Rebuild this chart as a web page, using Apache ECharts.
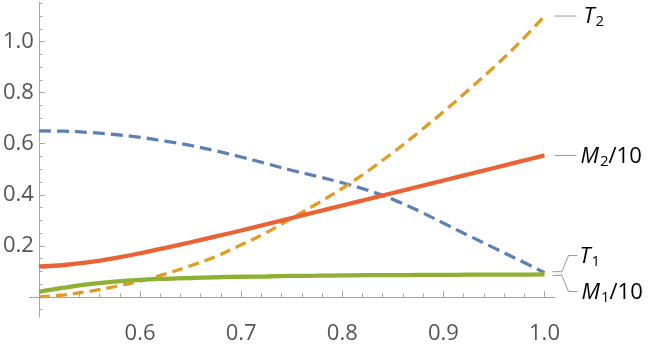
<!DOCTYPE html>
<html><head><meta charset="utf-8">
<script src="https://cdn.jsdelivr.net/npm/echarts@6/dist/echarts.min.js"></script>
<style>html,body{margin:0;padding:0;background:#fff}#c{width:664px;height:345px}</style>
</head><body><div id="c"></div>
<script>
// ---- data ----
const xValues = [0.5,0.525,0.55,0.575,0.6,0.625,0.65,0.675,0.7,0.725,0.75,0.775,0.8,0.825,0.85,0.875,0.9,0.925,0.95,0.975,1.0];
const T1 = [0.65,0.649,0.644,0.636,0.625,0.61,0.593,0.572,0.548,0.522,0.496,0.472,0.447,0.418,0.382,0.338,0.289,0.24,0.192,0.144,0.095];
const T2 = [0,0.008,0.022,0.04,0.062,0.09,0.122,0.158,0.204,0.252,0.308,0.365,0.425,0.492,0.565,0.643,0.725,0.811,0.9,0.995,1.1];
const M1over10 = [0.02,0.036,0.05,0.06,0.067,0.071,0.074,0.077,0.079,0.08,0.082,0.083,0.084,0.085,0.085,0.086,0.086,0.087,0.087,0.087,0.088];
const M2over10 = [0.119,0.125,0.136,0.152,0.171,0.192,0.214,0.237,0.26,0.2845,0.309,0.3335,0.358,0.3825,0.407,0.4315,0.456,0.4805,0.505,0.5295,0.554];
const xMajorTicks = [0.6,0.7,0.8,0.9,1.0];
const xMinorTicks = [0.52,0.54,0.56,0.58,0.62,0.64,0.66,0.68,0.72,0.74,0.76,0.78,0.82,0.84,0.86,0.88,0.92,0.94,0.96,0.98];
const yMajorTicks = [0.2,0.4,0.6,0.8,1.0];
const yMinorTicks = [-0.05,0.05,0.1,0.15,0.25,0.3,0.35,0.45,0.5,0.55,0.65,0.7,0.75,0.85,0.9,0.95,1.05,1.1,1.15];

// ---- layout ----
const X_MIN = 0.49061, X_MAX = 1.01038, Y_MIN = -0.0787, Y_MAX = 1.155;
const GRID = {left:29, right:109, top:2, bottom:14};
const PX_PER_X = (664 - GRID.left - GRID.right) / (X_MAX - X_MIN);
const Y_AXIS_SHIFT = (0.5 - X_MIN) * PX_PER_X;
const FONT = "'Open Sans', 'Liberation Sans', sans-serif";
const TXT = '#555555';
const AX = '#a6a6a6';
const TK = '#a6a6a6';
const C = {blue:'#5E81B5', orange:'#E19C24', green:'#8FB032', red:'#EB6235'};

const pairs = arr => xValues.map((x,i)=>[x,arr[i]]);

const chart = echarts.init(document.getElementById('c'), null, {renderer:'canvas'});
const xBase = {type:'value', min:X_MIN, max:X_MAX, splitLine:{show:false}, position:'bottom'};
const yBase = {type:'value', min:Y_MIN, max:Y_MAX, splitLine:{show:false}, position:'left', offset:-Y_AXIS_SHIFT};
chart.setOption({
  animation:false,
  backgroundColor:'#fff',
  grid: Object.assign({containLabel:false}, GRID),
  xAxis:[
    Object.assign({}, xBase, {
      axisLine:{show:true, onZero:true, lineStyle:{color:AX, width:1}},
      axisTick:{show:true, inside:true, length:6, customValues:xMajorTicks, lineStyle:{color:TK}},
      axisLabel:{show:true, customValues:xMajorTicks, formatter:v=>v.toFixed(1), fontSize:22, color:TXT, fontFamily:FONT, margin:6}
    }),
    Object.assign({}, xBase, {
      axisLine:{show:false, onZero:true},
      axisTick:{show:true, inside:true, length:3.5, customValues:xMinorTicks, lineStyle:{color:TK}},
      axisLabel:{show:false}
    })
  ],
  yAxis:[
    Object.assign({}, yBase, {
      axisLine:{show:true, onZero:false, lineStyle:{color:AX, width:1}},
      axisTick:{show:true, inside:true, length:6, customValues:yMajorTicks, lineStyle:{color:TK}},
      axisLabel:{show:true, customValues:yMajorTicks, formatter:v=>v.toFixed(1), fontSize:22, color:TXT, fontFamily:FONT, margin:5}
    }),
    Object.assign({}, yBase, {
      axisLine:{show:false, onZero:false},
      axisTick:{show:true, inside:true, length:3.5, customValues:yMinorTicks, lineStyle:{color:TK}},
      axisLabel:{show:false}
    })
  ],
  series:[
    {name:'T1', type:'line', data:pairs(T1), showSymbol:false, smooth:0.35,
     lineStyle:{color:C.blue, width:3.3, type:[12,6]}},
    {name:'T2', type:'line', data:pairs(T2), showSymbol:false, smooth:0.35,
     lineStyle:{color:C.orange, width:3.3, type:[11,6]}},
    {name:'M1/10', type:'line', data:pairs(M1over10), showSymbol:false, smooth:0.35,
     lineStyle:{color:C.green, width:4.3}},
    {name:'M2/10', type:'line', data:pairs(M2over10), showSymbol:false, smooth:0.35,
     lineStyle:{color:C.red, width:4.3}}
  ]
});

// ---- callout labels (positions derived from the data through the axes) ----
const rich = {
  i:{fontStyle:'italic', fontSize:22, color:TXT, fontFamily:FONT},
  s:{fontSize:15, color:TXT, fontFamily:FONT, padding:[10,0,0,1]},
  n:{fontSize:22, color:TXT, fontFamily:FONT}
};
const last = arr => chart.convertToPixel({xAxisIndex:0, yAxisIndex:0}, [xValues[xValues.length-1], arr[arr.length-1]]);
const lineEl = pts => ({type:'polyline', shape:{points:pts}, style:{stroke:'#999', lineWidth:1, fill:null}, silent:true});
const textEl = (x,y,t) => ({type:'text', x:x, y:y, style:{text:t, rich:rich, align:'left', verticalAlign:'middle'}, silent:true});
const pT2 = last(T2), pM2 = last(M2over10), pT1 = last(T1), pM1 = last(M1over10);
const g = [];
g.push(lineEl([[pT2[0]+10,pT2[1]],[pT2[0]+32,pT2[1]]]));
g.push(textEl(pT2[0]+39, pT2[1]+1, '{i|T}{s|2}'));
g.push(lineEl([[pM2[0]+10,pM2[1]],[pM2[0]+32,pM2[1]]]));
g.push(textEl(pM2[0]+36, pM2[1]+1, '{i|M}{s|2}{n|/10}'));
const bx = pT1[0];
g.push(lineEl([[bx+8,pT1[1]-1],[bx+17,pT1[1]-1]]));
g.push(lineEl([[bx+8,pM1[1]+1],[bx+17,pM1[1]+1]]));
const mid = (pT1[1]+pM1[1])/2;
g.push(lineEl([[bx+17,mid-1],[bx+24,mid-18],[bx+33,mid-18]]));
g.push(lineEl([[bx+17,mid+1],[bx+24,mid+18],[bx+33,mid+18]]));
g.push(textEl(bx+35, mid-17, '{i|T}{s|1}'));
g.push(textEl(bx+37, mid+19, '{i|M}{s|1}{n|/10}'));
chart.setOption({graphic:g});
</script>
</body></html>
